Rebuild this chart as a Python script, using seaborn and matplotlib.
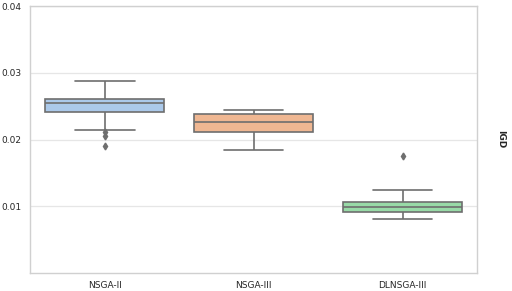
import numpy as np
import pandas as pd
import seaborn as sns
from matplotlib import pyplot as plt

algorithms = ['NSGA-II', 'NSGA-III', 'DLNSGA-III']

# IGD values per run (quartiles, whiskers, outliers)
igd_nsga2 = [0.0191, 0.0205, 0.0212, 0.0215, 0.0242, 0.0247, 0.0250, 0.0253, 0.0255,
             0.0257, 0.0258, 0.0260, 0.0261, 0.0263, 0.0268, 0.0275, 0.0288]
igd_nsga3 = [0.0185, 0.0195, 0.0203, 0.0209, 0.0212, 0.0216, 0.0220, 0.0224, 0.0227,
             0.0230, 0.0233, 0.0236, 0.0238, 0.0240, 0.0241, 0.0243, 0.0244]
igd_dlnsga3 = [0.0081, 0.0084, 0.0087, 0.0089, 0.0091, 0.0094, 0.0096, 0.0098, 0.0099,
               0.0101, 0.0103, 0.0105, 0.0107, 0.0110, 0.0116, 0.0125, 0.0175]

y_ticks = [0.01, 0.02, 0.03, 0.04]

df = pd.DataFrame({
    'algorithm': [algorithms[0]] * len(igd_nsga2) + [algorithms[1]] * len(igd_nsga3)
                 + [algorithms[2]] * len(igd_dlnsga3),
    'IGD': igd_nsga2 + igd_nsga3 + igd_dlnsga3,
})

sns.set_theme(style='whitegrid')
plt.rcParams['font.family'] = ['DejaVu Sans']

fig = plt.figure(figsize=(5.12, 2.91), dpi=100)
ax = fig.add_axes([0.059, 0.062, 0.873, 0.917])

sns.boxplot(data=df, x='algorithm', y='IGD', hue='algorithm', palette='pastel',
            width=0.8, linewidth=1.2, linecolor='#6e6e6e', ax=ax,
            flierprops=dict(marker='d', markersize=3.5, markerfacecolor='#6e6e6e',
                            markeredgecolor='#6e6e6e'))

ax.set_ylim(0, 0.04)
ax.set_yticks(y_ticks)
ax.set_yticklabels(['%.2f' % t for t in y_ticks])
ax.set_xlabel('')
ax.set_ylabel('IGD', fontsize=6.5, fontweight='bold', rotation=270, labelpad=20)
ax.yaxis.set_label_position('right')
ax.tick_params(axis='both', labelsize=6.5, length=0, pad=6)
ax.grid(axis='x', visible=False)
ax.grid(axis='y', color='#e6e6e6', linewidth=0.9)
for s in ax.spines.values():
    s.set_color('#d0d0d0')
    s.set_linewidth(1.0)

fig.savefig('out.png', dpi=100)
